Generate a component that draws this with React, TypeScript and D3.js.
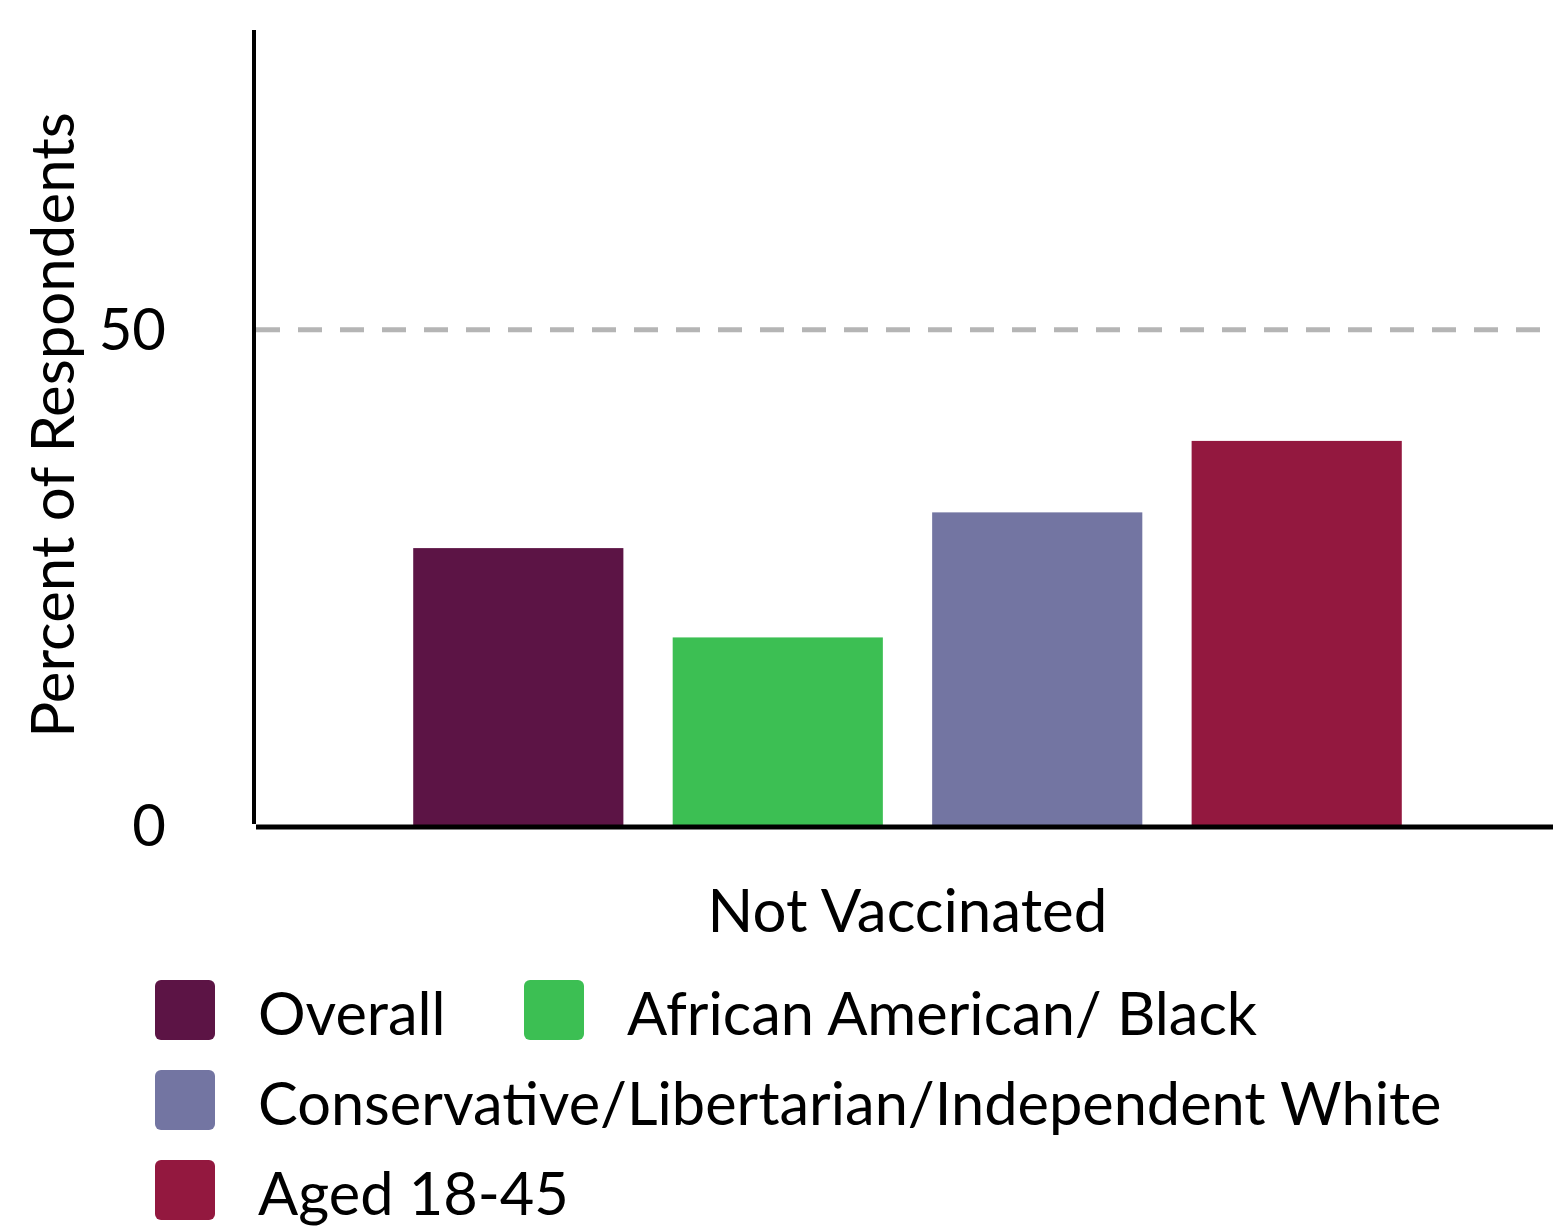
import React, { useEffect, useRef } from 'react';
import * as d3 from 'd3';

const categories = ['Not Vaccinated'];
const groups = ['Overall', 'African American/ Black', 'Conservative/Libertarian/Independent White', 'Aged 18-45'];
const values = [28.0, 19.0, 31.6, 38.8];
const colors = ['#5c1445', '#3cbf53', '#7375a2', '#93183f'];
const yTicks = [0, 50];

const W = 1553;
const H = 1228;
const FONT = 'Lato, "Open Sans", sans-serif';

const App: React.FC = () => {
  const svgRef = useRef<SVGSVGElement>(null);

  useEffect(() => {
    if (!svgRef.current) return;
    const svg = d3.select(svgRef.current);
    svg.selectAll('*').remove();

    const left = 256;
    const right = W;
    const y0 = 826;

    const y = d3.scaleLinear().domain([0, 80]).range([y0, 32]);
    // group sits a touch right of centre in the original
    const x0 = d3.scaleBand<string>().domain(categories).range([left + 3, right + 3]).paddingInner(0).paddingOuter(0.156);
    const x1 = d3.scaleBand<string>().domain(groups).range([0, x0.bandwidth()]).paddingInner(0.19).paddingOuter(0);

    // dashed reference line at 50
    svg.append('line')
      .attr('x1', left).attr('x2', right)
      .attr('y1', y(50)).attr('y2', y(50))
      .attr('stroke', '#b5b5b5').attr('stroke-width', 5)
      .attr('stroke-dasharray', '24 18');

    // bars
    const g = svg.append('g');
    categories.forEach((c) => {
      g.selectAll('rect.bar')
        .data(groups)
        .enter().append('rect')
        .attr('class', 'bar')
        .attr('x', (d) => (x0(c) ?? 0) + (x1(d) ?? 0))
        .attr('width', x1.bandwidth())
        .attr('y', (_, i) => y(values[i]))
        .attr('height', (_, i) => y0 - y(values[i]))
        .attr('fill', (_, i) => colors[i]);
    });

    // axes
    svg.append('line')
      .attr('x1', 254).attr('x2', 254)
      .attr('y1', 30).attr('y2', y0 - 2)
      .attr('stroke', '#000').attr('stroke-width', 4);
    svg.append('line')
      .attr('x1', left).attr('x2', right)
      .attr('y1', y0 + 1).attr('y2', y0 + 1)
      .attr('stroke', '#000').attr('stroke-width', 5);

    // y tick labels
    svg.selectAll('text.ytick')
      .data(yTicks)
      .enter().append('text')
      .attr('class', 'ytick')
      .attr('x', 166)
      .attr('y', (d) => y(d))
      .attr('dy', '0.35em')
      .attr('text-anchor', 'end')
      .attr('font-family', FONT)
      .attr('font-size', 58)
      .attr('fill', '#000')
      .text((d) => d);

    // y axis title
    svg.append('text')
      .attr('transform', `translate(74,${425}) rotate(-90)`)
      .attr('text-anchor', 'middle')
      .attr('font-family', FONT)
      .attr('font-size', 60)
      .attr('fill', '#000')
      .text('Percent of Respondents');

    // x category label
    svg.selectAll('text.xcat')
      .data(categories)
      .enter().append('text')
      .attr('class', 'xcat')
      .attr('x', (d) => (x0(d) ?? 0) + x0.bandwidth() / 2)
      .attr('y', 932)
      .attr('text-anchor', 'middle')
      .attr('font-family', FONT)
      .attr('font-size', 60)
      .attr('fill', '#000')
      .text((d) => d);

    // legend
    const legendPos = [
      { x: 155, y: 980 },
      { x: 524, y: 980 },
      { x: 155, y: 1070 },
      { x: 155, y: 1160 },
    ];
    const lg = svg.append('g');
    groups.forEach((name, i) => {
      const p = legendPos[i];
      lg.append('rect')
        .attr('x', p.x).attr('y', p.y)
        .attr('width', 60).attr('height', 60)
        .attr('rx', 6)
        .attr('fill', colors[i]);
      lg.append('text')
        .attr('x', p.x + 103)
        .attr('y', p.y + 55)
        .attr('font-family', FONT)
        .attr('font-size', 59.5)
        .attr('fill', '#000')
        .text(name);
    });
  }, []);

  return (
    <div style={{ position: 'absolute', left: 0, top: 0, width: W, height: H, background: '#fff' }}>
      <svg ref={svgRef} width={W} height={H} style={{ display: 'block' }} />
    </div>
  );
};

export default App;
